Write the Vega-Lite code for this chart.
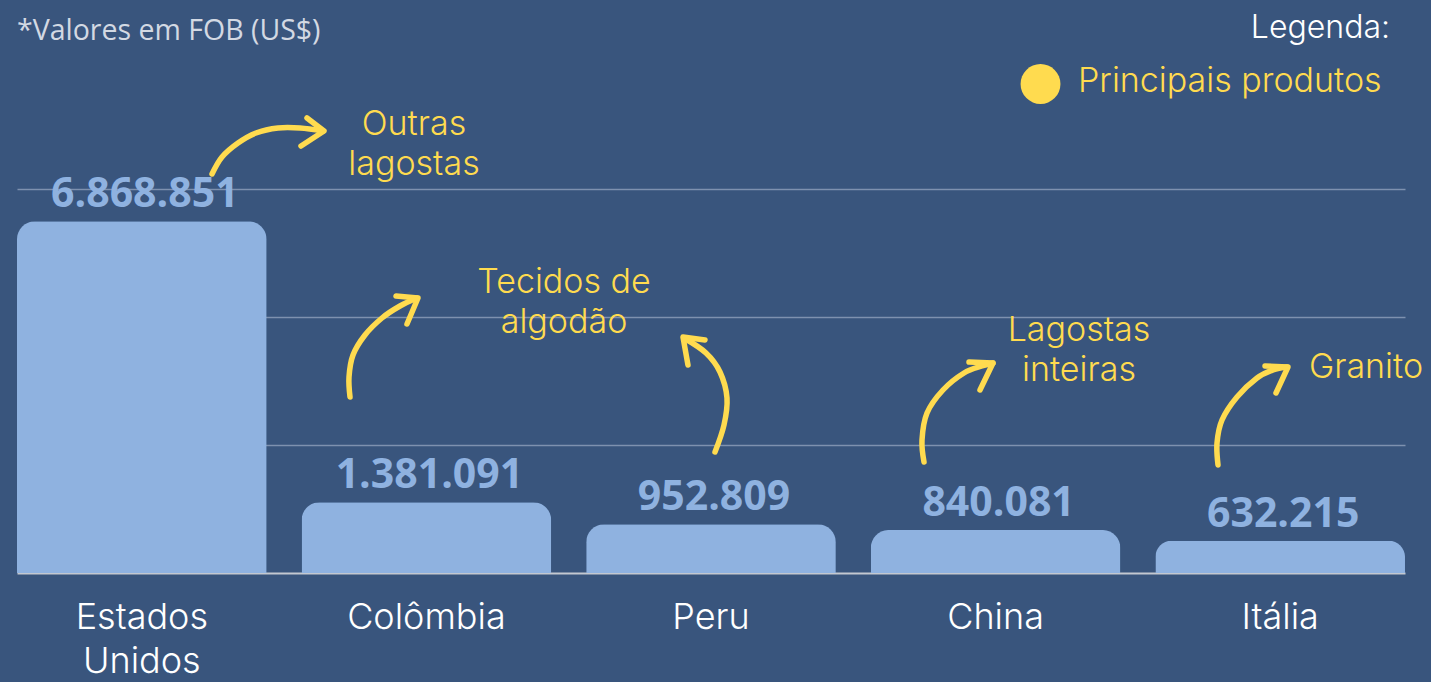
{
  "$schema": "https://vega.github.io/schema/vega-lite/v6.json",
  "width": 1388,
  "height": 573,
  "autosize": {"type": "none"},
  "padding": {"left": 17, "right": 26, "top": 0, "bottom": 109},
  "background": "#39557D",
  "config": {
    "view": {"stroke": null},
    "locale": {"number": {"decimal": ",", "thousands": ".", "grouping": [3], "currency": ["US$", ""]}}
  },
  "resolve": {"scale": {"x": "independent"}},
  "layer": [
    {
      "data": {"values": [
        {"pais": "Estados Unidos", "valor": 6868851},
        {"pais": "Colômbia", "valor": 1381091},
        {"pais": "Peru", "valor": 952809},
        {"pais": "China", "valor": 840081},
        {"pais": "Itália", "valor": 632215}
      ]},
      "encoding": {
        "x": {
          "field": "pais", "type": "nominal", "sort": null, "title": null,
          "scale": {"paddingInner": 0.1228, "paddingOuter": 0},
          "axis": {
            "labelAngle": 0, "ticks": false, "labelPadding": 27,
            "labelFont": "Inter", "labelFontSize": 36, "labelFontWeight": 300, "labelColor": "#FFFFFF",
            "labelLineHeight": 44, "labelExpr": "split(datum.value, ' ')",
            "domainColor": "#C3C8D0", "domainWidth": 2, "grid": false
          }
        },
        "y": {
          "field": "valor", "type": "quantitative", "title": null,
          "scale": {"domain": [0, 11191406], "nice": false, "zero": true},
          "axis": {
            "values": [2500000, 5000000, 7500000], "grid": true, "gridColor": "#7E91AF",
            "gridWidth": 1.5, "labels": false, "ticks": false, "domain": false
          }
        }
      },
      "layer": [
        {"mark": {"type": "bar", "color": "#8FB2E0", "cornerRadiusTopLeft": 18, "cornerRadiusTopRight": 18}},
        {
          "mark": {"type": "text", "baseline": "alphabetic", "dy": -14, "dx": 3, "font": "Open Sans", "fontWeight": "bold", "fontSize": 41, "color": "#8FB2E0"},
          "encoding": {"text": {"field": "valor", "type": "quantitative", "format": ","}}
        }
      ]
    },
    {
      "layer": [
        {
          "data": {"values": [
            {"id": "a1", "o": 1, "u": 0.7025, "v": 7792969},
            {"id": "a1", "o": 2, "u": 0.7385, "v": 8125000},
            {"id": "a1", "o": 3, "u": 0.7961, "v": 8398438},
            {"id": "a1", "o": 4, "u": 0.8610, "v": 8593750},
            {"id": "a1", "o": 5, "u": 0.9402, "v": 8691406},
            {"id": "a1", "o": 6, "u": 1.0195, "v": 8691406},
            {"id": "a1", "o": 7, "u": 1.1023, "v": 8632813},
            {"id": "a2", "o": 1, "u": 1.1996, "v": 3437500},
            {"id": "a2", "o": 2, "u": 1.1960, "v": 3828125},
            {"id": "a2", "o": 3, "u": 1.2104, "v": 4257813},
            {"id": "a2", "o": 4, "u": 1.2536, "v": 4648438},
            {"id": "a2", "o": 5, "u": 1.3148, "v": 4980469},
            {"id": "a2", "o": 6, "u": 1.3797, "v": 5214844},
            {"id": "a2", "o": 7, "u": 1.4409, "v": 5371094},
            {"id": "a3", "o": 1, "u": 2.5144, "v": 2363281},
            {"id": "a3", "o": 2, "u": 2.5468, "v": 2890625},
            {"id": "a3", "o": 3, "u": 2.5576, "v": 3417969},
            {"id": "a3", "o": 4, "u": 2.5324, "v": 3925781},
            {"id": "a3", "o": 5, "u": 2.4820, "v": 4296875},
            {"id": "a3", "o": 6, "u": 2.4027, "v": 4589844},
            {"id": "a4", "o": 1, "u": 3.2673, "v": 2167969},
            {"id": "a4", "o": 2, "u": 3.2601, "v": 2597656},
            {"id": "a4", "o": 3, "u": 3.2781, "v": 3125000},
            {"id": "a4", "o": 4, "u": 3.3357, "v": 3574219},
            {"id": "a4", "o": 5, "u": 3.4114, "v": 3906250},
            {"id": "a4", "o": 6, "u": 3.4762, "v": 4042969},
            {"id": "a4", "o": 7, "u": 3.5159, "v": 4101563},
            {"id": "a5", "o": 1, "u": 4.3264, "v": 2109375},
            {"id": "a5", "o": 2, "u": 4.3228, "v": 2539063},
            {"id": "a5", "o": 3, "u": 4.3408, "v": 2988281},
            {"id": "a5", "o": 4, "u": 4.3948, "v": 3437500},
            {"id": "a5", "o": 5, "u": 4.4669, "v": 3808594},
            {"id": "a5", "o": 6, "u": 4.5245, "v": 3964844},
            {"id": "a5", "o": 7, "u": 4.5749, "v": 4023438}
          ]},
          "mark": {"type": "line", "interpolate": "cardinal", "color": "#FFDB4F", "strokeWidth": 5.5, "strokeCap": "round"},
          "encoding": {
            "x": {"field": "u", "type": "quantitative", "scale": {"domain": [0, 5], "nice": false, "zero": false}, "axis": null},
            "y": {"field": "v", "type": "quantitative", "title": null, "scale": {"domain": [0, 11191406], "nice": false}},
            "detail": {"field": "id"},
            "order": {"field": "o", "type": "quantitative"}
          }
        },
        {
          "data": {"values": [
            {"id": "h1", "o": 1, "u": 1.0447, "v": 8886719},
            {"id": "h1", "o": 2, "u": 1.1059, "v": 8632813},
            {"id": "h1", "o": 3, "u": 1.0231, "v": 8339844},
            {"id": "h2", "o": 1, "u": 1.3653, "v": 5410156},
            {"id": "h2", "o": 2, "u": 1.4445, "v": 5371094},
            {"id": "h2", "o": 3, "u": 1.4049, "v": 4863281},
            {"id": "h3", "o": 1, "u": 2.4784, "v": 4550781},
            {"id": "h3", "o": 2, "u": 2.3991, "v": 4609375},
            {"id": "h3", "o": 3, "u": 2.4171, "v": 4062500},
            {"id": "h4", "o": 1, "u": 3.4294, "v": 4121094},
            {"id": "h4", "o": 2, "u": 3.5159, "v": 4101563},
            {"id": "h4", "o": 3, "u": 3.4690, "v": 3574219},
            {"id": "h5", "o": 1, "u": 4.4957, "v": 4042969},
            {"id": "h5", "o": 2, "u": 4.5785, "v": 4023438},
            {"id": "h5", "o": 3, "u": 4.5353, "v": 3515625}
          ]},
          "mark": {"type": "line", "interpolate": "linear", "color": "#FFDB4F", "strokeWidth": 5.5, "strokeCap": "round", "strokeJoin": "round"},
          "encoding": {
            "x": {"field": "u", "type": "quantitative", "scale": {"domain": [0, 5], "nice": false, "zero": false}, "axis": null},
            "y": {"field": "v", "type": "quantitative", "title": null, "scale": {"domain": [0, 11191406], "nice": false}},
            "detail": {"field": "id"},
            "order": {"field": "o", "type": "quantitative"}
          }
        },
        {
          "data": {"values": [
            {"texto": "Outras", "u": 1.4301, "v": 8554688},
            {"texto": "lagostas", "u": 1.4301, "v": 7773438},
            {"texto": "Tecidos de", "u": 1.9705, "v": 5468750},
            {"texto": "algodão", "u": 1.9705, "v": 4687500},
            {"texto": "Lagostas", "u": 3.8256, "v": 4531250},
            {"texto": "inteiras", "u": 3.8256, "v": 3750000},
            {"texto": "Granito", "u": 4.8595, "v": 3808594}
          ]},
          "mark": {"type": "text", "align": "center", "baseline": "alphabetic", "font": "Inter", "fontSize": 34, "fontWeight": 300, "color": "#FFDB4F"},
          "encoding": {
            "x": {"field": "u", "type": "quantitative", "scale": {"domain": [0, 5], "nice": false, "zero": false}, "axis": null},
            "y": {"field": "v", "type": "quantitative", "title": null, "scale": {"domain": [0, 11191406], "nice": false}},
            "text": {"field": "texto"}
          }
        },
        {
          "data": {"values": [{"texto": "*Valores em FOB (US$)", "u": 0.0, "v": 10410156}]},
          "mark": {"type": "text", "align": "left", "baseline": "alphabetic", "font": "Open Sans", "fontSize": 28.5, "color": "#D3D9E3"},
          "encoding": {
            "x": {"field": "u", "type": "quantitative", "scale": {"domain": [0, 5], "nice": false, "zero": false}, "axis": null},
            "y": {"field": "v", "type": "quantitative", "title": null, "scale": {"domain": [0, 11191406], "nice": false}},
            "text": {"field": "texto"}
          }
        },
        {
          "data": {"values": [{"texto": "Legenda:", "u": 4.9460, "v": 10449219}]},
          "mark": {"type": "text", "align": "right", "baseline": "alphabetic", "font": "Inter", "fontSize": 32, "fontWeight": 300, "color": "#FFFFFF"},
          "encoding": {
            "x": {"field": "u", "type": "quantitative", "scale": {"domain": [0, 5], "nice": false, "zero": false}, "axis": null},
            "y": {"field": "v", "type": "quantitative", "title": null, "scale": {"domain": [0, 11191406], "nice": false}},
            "text": {"field": "texto"}
          }
        },
        {
          "data": {"values": [{"item": "Principais produtos", "u": 3.6870, "v": 9550781}]},
          "mark": {"type": "point", "shape": "circle", "filled": true, "size": 1590, "opacity": 1, "color": "#FFDB4F"},
          "encoding": {
            "x": {"field": "u", "type": "quantitative", "scale": {"domain": [0, 5], "nice": false, "zero": false}, "axis": null},
            "y": {"field": "v", "type": "quantitative", "title": null, "scale": {"domain": [0, 11191406], "nice": false}}
          }
        },
        {
          "data": {"values": [{"texto": "Principais produtos", "u": 3.8220, "v": 9394531}]},
          "mark": {"type": "text", "align": "left", "baseline": "alphabetic", "font": "Inter", "fontSize": 34, "fontWeight": 300, "color": "#FFDB4F"},
          "encoding": {
            "x": {"field": "u", "type": "quantitative", "scale": {"domain": [0, 5], "nice": false, "zero": false}, "axis": null},
            "y": {"field": "v", "type": "quantitative", "title": null, "scale": {"domain": [0, 11191406], "nice": false}},
            "text": {"field": "texto"}
          }
        }
      ]
    }
  ]
}
